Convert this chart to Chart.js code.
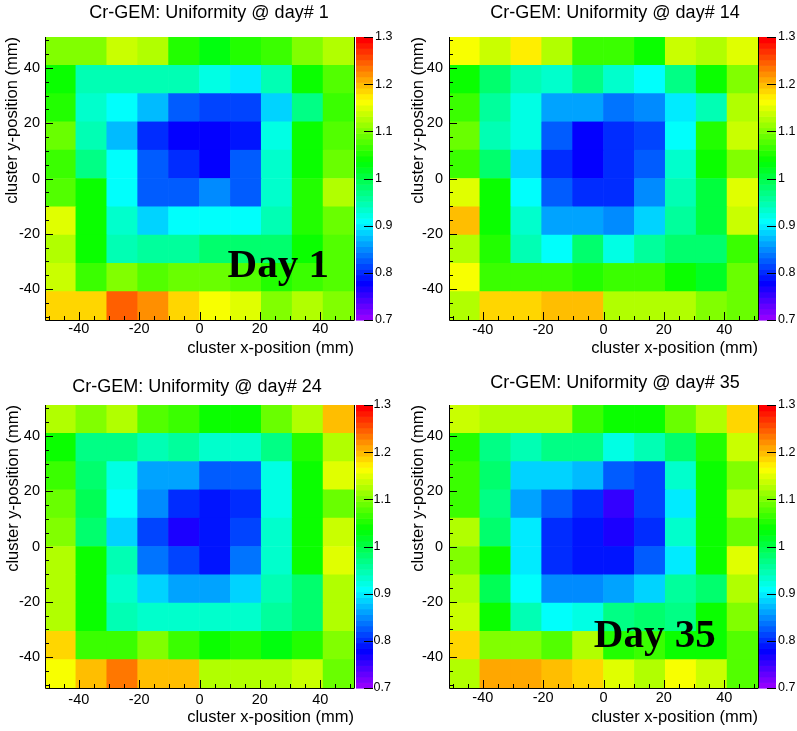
<!DOCTYPE html>
<html>
<head>
<meta charset="utf-8">
<script src="https://cdn.jsdelivr.net/npm/chart.js@4.4.1/dist/chart.umd.min.js"></script>
<style>
  html, body { margin: 0; padding: 0; background: #fff; width: 797px; height: 731px; overflow: hidden; position: relative; }
  canvas { position: absolute; }
</style>
</head>
<body>
<canvas id="c1"></canvas>
<canvas id="c2"></canvas>
<canvas id="c3"></canvas>
<canvas id="c4"></canvas>
<script>
// bins of the 10x10 map (mm)
const binCenters = [-46.08, -35.84, -25.6, -15.36, -5.12, 5.12, 15.36, 25.6, 35.84, 46.08];
const binWidth = 10.24;
const xTicks = [-40, -20, 0, 20, 40];

// relative gain per cell, rows listed from top (y = +46) to bottom (y = -46)
const day1 = [
  [1.10, 1.10, 1.14, 1.12, 1.05, 1.03, 1.05, 1.07, 1.105, 1.13],
  [1.04, 0.94, 0.95, 0.94, 0.94, 0.92, 0.90, 0.94, 1.04, 1.08],
  [1.05, 0.93, 0.905, 0.87, 0.83, 0.81, 0.81, 0.885, 0.97, 1.06],
  [1.09, 0.95, 0.875, 0.80, 0.775, 0.775, 0.79, 0.92, 1.04, 1.08],
  [1.07, 0.97, 0.915, 0.82, 0.80, 0.775, 0.82, 0.93, 1.04, 1.09],
  [1.08, 1.04, 0.915, 0.83, 0.82, 0.845, 0.82, 0.93, 1.05, 1.12],
  [1.155, 1.04, 0.935, 0.88, 0.905, 0.905, 0.905, 0.94, 1.055, 1.09],
  [1.12, 1.04, 0.95, 0.96, 0.96, 0.985, 0.98, 0.985, 1.04, 1.08],
  [1.14, 1.07, 1.10, 1.08, 1.09, 1.09, 1.08, 1.05, 1.06, 1.08],
  [1.18, 1.18, 1.245, 1.22, 1.19, 1.16, 1.145, 1.105, 1.12, 1.10]
];
const day14 = [
  [1.16, 1.14, 1.175, 1.125, 1.065, 1.06, 1.04, 1.135, 1.125, 1.15],
  [1.04, 0.98, 0.94, 0.935, 0.97, 0.935, 0.915, 0.97, 1.04, 1.10],
  [1.065, 0.96, 0.925, 0.86, 0.86, 0.835, 0.845, 0.895, 0.95, 1.12],
  [1.09, 0.95, 0.925, 0.83, 0.775, 0.80, 0.81, 0.905, 1.05, 1.135],
  [1.07, 0.985, 0.885, 0.80, 0.775, 0.80, 0.83, 0.935, 1.04, 1.105],
  [1.145, 1.04, 0.905, 0.83, 0.80, 0.80, 0.845, 0.94, 1.00, 1.15],
  [1.195, 1.04, 0.935, 0.865, 0.865, 0.85, 0.885, 0.96, 1.00, 1.14],
  [1.125, 1.05, 0.95, 0.905, 0.98, 0.92, 0.96, 0.985, 0.985, 1.065],
  [1.165, 1.065, 1.07, 1.07, 1.05, 1.065, 1.065, 1.04, 1.02, 1.09],
  [1.13, 1.19, 1.19, 1.20, 1.20, 1.125, 1.125, 1.12, 1.10, 1.09]
];
const day24 = [
  [1.12, 1.105, 1.125, 1.08, 1.065, 1.04, 1.04, 1.09, 1.12, 1.195],
  [1.04, 0.97, 0.97, 0.95, 0.96, 0.935, 0.93, 0.97, 1.05, 1.12],
  [1.06, 0.985, 0.92, 0.865, 0.86, 0.83, 0.83, 0.92, 1.04, 1.15],
  [1.09, 0.99, 0.905, 0.845, 0.80, 0.785, 0.80, 0.92, 1.04, 1.09],
  [1.10, 0.985, 0.89, 0.81, 0.765, 0.79, 0.81, 0.935, 1.04, 1.14],
  [1.125, 1.04, 0.94, 0.835, 0.81, 0.785, 0.835, 0.93, 1.04, 1.15],
  [1.125, 1.04, 0.935, 0.885, 0.865, 0.865, 0.89, 0.94, 0.985, 1.12],
  [1.125, 1.04, 0.94, 0.935, 0.935, 0.935, 0.935, 0.96, 0.985, 1.12],
  [1.18, 1.065, 1.06, 1.10, 1.065, 1.04, 1.05, 1.03, 1.05, 1.10],
  [1.16, 1.195, 1.235, 1.20, 1.20, 1.125, 1.12, 1.12, 1.14, 1.09]
];
const day35 = [
  [1.14, 1.125, 1.125, 1.12, 1.065, 1.04, 1.04, 1.09, 1.125, 1.185],
  [1.05, 0.97, 0.95, 0.97, 0.97, 0.92, 0.94, 0.985, 1.05, 1.135],
  [1.06, 0.98, 0.885, 0.885, 0.87, 0.83, 0.81, 0.93, 1.04, 1.10],
  [1.07, 0.97, 0.865, 0.82, 0.80, 0.755, 0.81, 0.895, 1.04, 1.12],
  [1.12, 0.98, 0.895, 0.80, 0.79, 0.765, 0.80, 0.935, 1.04, 1.09],
  [1.105, 1.04, 0.895, 0.80, 0.79, 0.785, 0.83, 0.90, 1.04, 1.155],
  [1.12, 0.99, 0.905, 0.845, 0.845, 0.865, 0.885, 0.96, 0.985, 1.12],
  [1.14, 1.04, 0.95, 0.905, 0.92, 0.97, 0.985, 0.97, 1.04, 1.10],
  [1.19, 1.10, 1.10, 1.08, 1.12, 1.05, 1.06, 1.04, 1.04, 1.08],
  [1.125, 1.21, 1.21, 1.195, 1.19, 1.15, 1.125, 1.165, 1.135, 1.08]
];

// colour scale (ROOT "pretty" palette, violet -> red)
const zMin = 0.7, zMax = 1.3, nColors = 50;

function paletteColor(i) {
  return 'hsl(' + (280 - (i + 1) * 280 / nColors) + ', 100%, 50%)';
}
function colorFor(v) {
  let i = Math.floor((v - zMin) / (zMax - zMin) * nColors + 1e-6);
  i = Math.max(0, Math.min(nColors - 1, i));
  return paletteColor(i);
}

function cells(grid) {
  const pts = [];
  grid.forEach((row, r) => {
    const yc = binCenters[binCenters.length - 1 - r];
    row.forEach((v, c) => {
      pts.push({ x: binCenters[c], y: [yc - binWidth / 2, yc + binWidth / 2], v: v });
    });
  });
  return pts;
}

Chart.defaults.font.family = '"Liberation Sans", Arial, Helvetica, sans-serif';
Chart.defaults.color = '#000';

// frame ticks, colour bar and the big day label
const rootFrame = {
  id: 'rootFrame',
  afterDatasetsDraw(chart, args, opts) {
    const { ctx, chartArea: a, scales } = chart;
    const x = scales.x, y = scales.y, z = scales.z;
    ctx.save();

    // colour bar
    const step = (zMax - zMin) / nColors;
    const barL = a.right + opts.barGap;
    for (let i = 0; i < nColors; i++) {
      const p0 = z.getPixelForValue(zMin + i * step);
      const p1 = z.getPixelForValue(zMin + (i + 1) * step);
      ctx.fillStyle = paletteColor(i);
      ctx.fillRect(barL, p1, opts.barWidth, p0 - p1 + 0.6);
    }

    ctx.strokeStyle = '#000';
    ctx.lineWidth = 1;
    ctx.beginPath();
    // frame
    ctx.moveTo(a.left + 0.5, a.top);
    ctx.lineTo(a.left + 0.5, a.bottom + 0.5);
    ctx.lineTo(a.right, a.bottom + 0.5);
    ctx.moveTo(a.right + 0.5, a.top);
    ctx.lineTo(a.right + 0.5, a.bottom + 0.5);
    // inner ticks every 5 mm, long ones on the labelled values
    for (let v = -50; v <= 50; v += 5) {
      const len = xTicks.includes(v) ? 8 : 4;
      const px = Math.round(x.getPixelForValue(v)) + 0.5;
      ctx.moveTo(px, a.bottom);
      ctx.lineTo(px, a.bottom - len);
      const py = Math.round(y.getPixelForValue(v)) + 0.5;
      ctx.moveTo(a.left, py);
      ctx.lineTo(a.left + len, py);
    }
    // colour bar ticks
    const barR = barL + opts.barWidth;
    z.ticks.forEach(t => {
      const pz = Math.round(z.getPixelForValue(t.value)) + 0.5;
      ctx.moveTo(barR - 9, pz);
      ctx.lineTo(barR, pz);
    });
    ctx.stroke();

    if (opts.label) {
      ctx.fillStyle = '#000';
      ctx.font = 'bold 41px "Liberation Serif", "Times New Roman", serif';
      ctx.textAlign = 'left';
      ctx.textBaseline = 'alphabetic';
      ctx.fillText(opts.label, x.getPixelForValue(opts.labelAt[0]), y.getPixelForValue(opts.labelAt[1]));
    }
    ctx.restore();
  }
};

// canvas placement and axis geometry of each pad
const pads = [
  { id: 'c1', grid: day1, day: 1, left: 0, top: 0, w: 418, h: 365,
    titlePad: [2.5, 12.9], yW: 45, yTitlePad: 2.6, yTickPad: 5,
    xH: 45, xTickPad: 0.3, xTitlePad: 6.6, zW: 64, zTickPad: 21, barGap: 2,
    label: 'Day 1', labelAt: [9.3, -35.8] },
  { id: 'c2', grid: day14, day: 14, left: 400, top: 0, w: 430, h: 365,
    titlePad: [2.5, 12.9], yW: 49, yTitlePad: 8.6, yTickPad: 6,
    xH: 45, xTickPad: 1.3, xTitlePad: 6.6, zW: 72, zTickPad: 20, barGap: 1,
    label: '', labelAt: [0, 0] },
  { id: 'c3', grid: day24, day: 24, left: 0, top: 365, w: 394, h: 366,
    titlePad: [11.2, 7.2], yW: 45, yTitlePad: 3.1, yTickPad: 5,
    xH: 43, xTickPad: 3.3, xTitlePad: 3.6, zW: 40, zTickPad: 19.5, barGap: 2,
    label: '', labelAt: [0, 0] },
  { id: 'c4', grid: day35, day: 35, left: 400, top: 365, w: 430, h: 366,
    titlePad: [7.2, 11.2], yW: 49, yTitlePad: 8.4, yTickPad: 6,
    xH: 43, xTickPad: 1.3, xTitlePad: 4.1, zW: 72, zTickPad: 20, barGap: 1,
    label: 'Day 35', labelAt: [-3.2, -36.4] }
];

function renderPad(p) {
  const canvas = document.getElementById(p.id);
  canvas.width = p.w;
  canvas.height = p.h;
  canvas.style.left = p.left + 'px';
  canvas.style.top = p.top + 'px';

  new Chart(canvas.getContext('2d'), {
    type: 'bar',
    data: {
      datasets: [{
        data: cells(p.grid),
        backgroundColor: c => colorFor(c.raw.v),
        borderWidth: 0,
        barPercentage: 1,
        categoryPercentage: 1
      }]
    },
    options: {
      responsive: false,
      devicePixelRatio: 1,
      animation: false,
      events: [],
      layout: { padding: 0 },
      plugins: {
        legend: { display: false },
        tooltip: { enabled: false },
        title: {
          display: true,
          text: 'Cr-GEM: Uniformity @ day# ' + p.day,
          color: '#000',
          font: { size: 18, weight: 'normal', lineHeight: 1.2 },
          padding: { top: p.titlePad[0], bottom: p.titlePad[1] }
        },
        rootFrame: { barGap: p.barGap, barWidth: 17, label: p.label, labelAt: p.labelAt }
      },
      scales: {
        x: {
          type: 'linear',
          position: 'bottom',
          min: -51.2,
          max: 51.2,
          offset: false,
          grid: { display: false, drawTicks: false, offset: false },
          border: { display: false },
          ticks: { stepSize: 20, includeBounds: false, autoSkip: false, maxRotation: 0,
                   padding: p.xTickPad, color: '#000', font: { size: 14.5 } },
          title: { display: true, text: 'cluster x-position (mm)', align: 'end', color: '#000',
                   font: { size: 16.5 }, padding: { top: 0, bottom: p.xTitlePad } },
          afterFit: s => { s.height = p.xH; }
        },
        y: {
          type: 'linear',
          position: 'left',
          min: -51.2,
          max: 51.2,
          grid: { display: false, drawTicks: false },
          border: { display: false },
          ticks: { stepSize: 20, includeBounds: false, autoSkip: false,
                   padding: p.yTickPad, color: '#000', font: { size: 14.5 } },
          title: { display: true, text: 'cluster y-position (mm)', align: 'end', color: '#000',
                   font: { size: 16.5 }, padding: { top: p.yTitlePad, bottom: 0 } },
          afterFit: s => { s.width = p.yW; }
        },
        z: {
          type: 'linear',
          position: 'right',
          min: zMin,
          max: zMax,
          grid: { display: false, drawTicks: false },
          border: { display: false },
          ticks: { stepSize: 0.1, autoSkip: false, padding: p.zTickPad, color: '#000', font: { size: 12.5 },
                   callback: v => String(Math.round(v * 10) / 10) },
          afterFit: s => { s.width = p.zW; }
        }
      }
    },
    plugins: [rootFrame]
  });
}

pads.forEach(renderPad);
</script>
</body>
</html>
